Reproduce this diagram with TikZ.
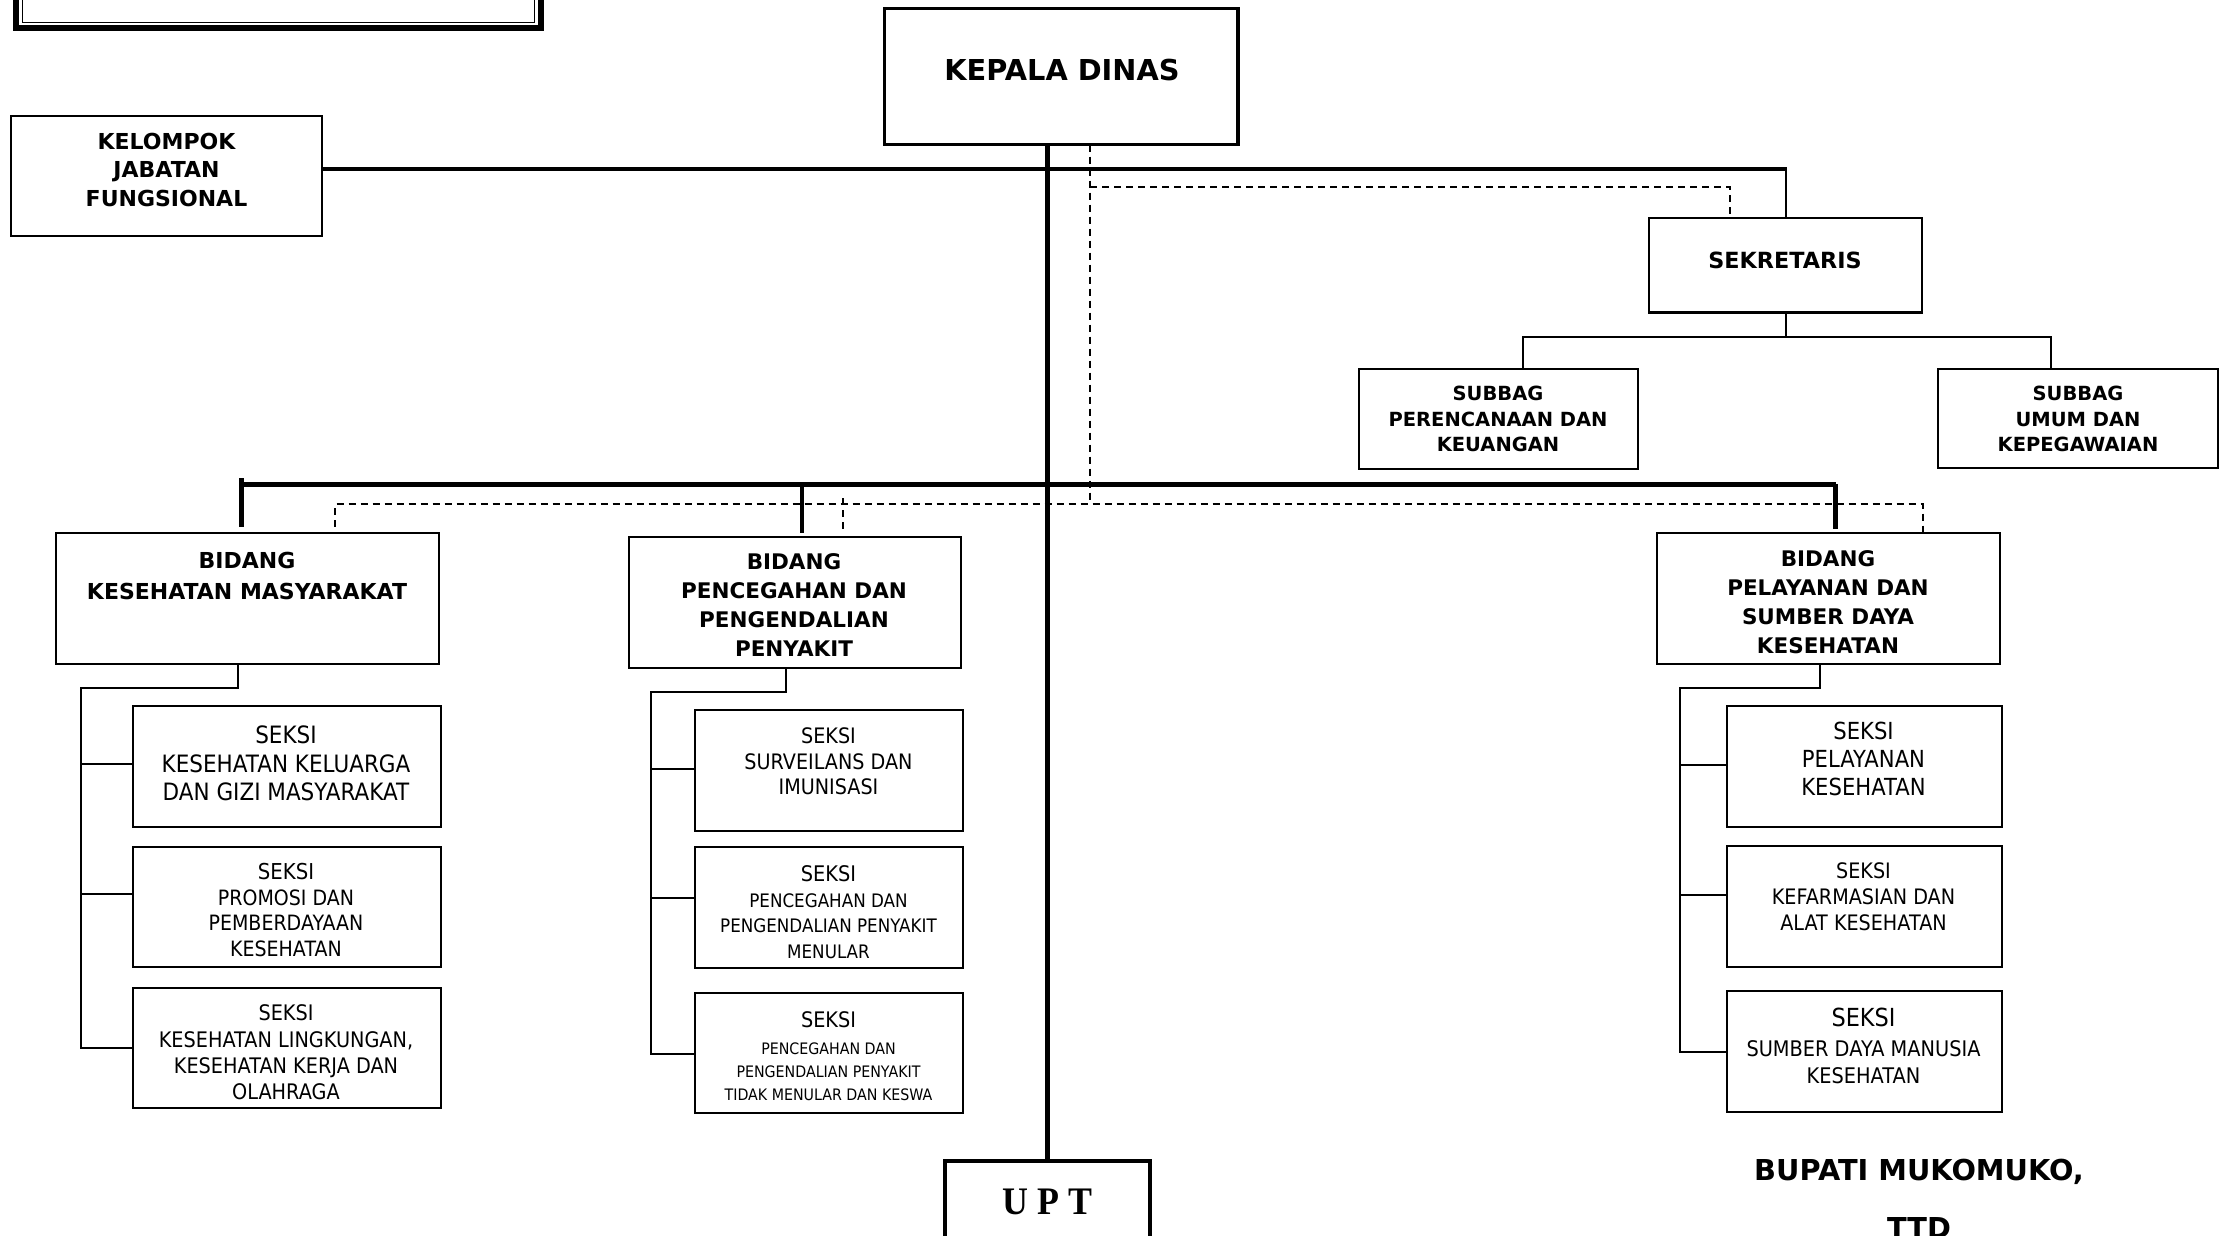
\documentclass[tikz,border=0pt]{standalone}
\usepackage{fontspec}
\setmainfont{DejaVu Sans}
\newfontfamily\regf{DejaVu Sans}[FakeStretch=0.9]
\newfontfamily\uptf{Liberation Serif}[FakeStretch=0.92]
\usetikzlibrary{calc}
\newcommand{\myfs}[2]{\fontsize{#1}{#2}\selectfont}
\tikzset{
  box/.style={draw, line width=2pt, rectangle, inner sep=0pt, outer sep=0pt},
  lbl/.style={anchor=north, inner sep=0pt, outer sep=0pt, align=center},
  conn/.style={line width=2pt},
  thk/.style={line width=5pt},
  dsh/.style={line width=1.5pt, dash pattern=on 7pt off 5pt},
}
\begin{document}
\begin{tikzpicture}[x=1pt,y=-1pt]
\useasboundingbox (0,0) rectangle (2221,1236);
\clip (0,0) rectangle (2221,1236);
\fill[white] (0,0) rectangle (2221,1236);

% decorative box at the top left (cut off)
\node[box, line width=6pt, minimum width=525.5pt, minimum height=68.5pt] (tlo) at (278.25,-5.75) {};
\node[box, line width=1.8pt, minimum width=512pt, minimum height=62.5pt] (tli) at (278.5,-8.75) {};

% boxes
\node[box, line width=3.3pt, minimum width=353.5pt, minimum height=136pt] (kd) at (1061.25,76.7) {};
\node[box, minimum width=311pt, minimum height=119.5pt] (kjf) at (166.5,175.75) {};
\node[box, line width=2.4pt, minimum width=273pt, minimum height=94.5pt] (sekr) at (1785.5,265.25) {};
\node[box, minimum width=279pt, minimum height=100pt] (subpk) at (1498.5,419) {};
\node[box, minimum width=280pt, minimum height=98.5pt] (subum) at (2078,418.25) {};
\node[box, minimum width=382.5pt, minimum height=131pt] (bkm) at (247.25,598) {};
\node[box, minimum width=332.5pt, minimum height=131.5pt] (bpp) at (794.75,602.25) {};
\node[box, minimum width=343.5pt, minimum height=131.5pt] (bps) at (1828.25,598.25) {};
\node[box, minimum width=308pt, minimum height=121.5pt] (km1) at (286.5,766.25) {};
\node[box, minimum width=308pt, minimum height=120.5pt] (km2) at (286.5,906.75) {};
\node[box, minimum width=308pt, minimum height=120pt] (km3) at (286.5,1048) {};
\node[box, minimum width=268.5pt, minimum height=121pt] (pp1) at (828.75,770.5) {};
\node[box, minimum width=268.5pt, minimum height=120.5pt] (pp2) at (828.75,907.25) {};
\node[box, minimum width=268.5pt, minimum height=120pt] (pp3) at (828.75,1052.5) {};
\node[box, minimum width=275.5pt, minimum height=121pt] (ps1) at (1864.25,766.5) {};
\node[box, minimum width=275.5pt, minimum height=121pt] (ps2) at (1864.25,906.5) {};
\node[box, minimum width=275.5pt, minimum height=121pt] (ps3) at (1864.25,1051.5) {};
\node[box, line width=4pt, minimum width=205pt, minimum height=139pt] (upt) at (1047.5,1230) {};

% texts
\node[lbl, font=\bfseries\myfs{28.8}{34}] (tkd) at (1062,59.5) {KEPALA DINAS};
\node[lbl, font=\bfseries\myfs{22}{28.5}] (tkjf) at (166.5,133) {KELOMPOK\\JABATAN\\FUNGSIONAL};
\node[lbl, font=\bfseries\myfs{22.3}{28}] (tsekr) at (1785,251.5) {SEKRETARIS};
\node[lbl, font=\bfseries\myfs{19.5}{25.3}] (tsubpk) at (1498,386.5) {SUBBAG\\PERENCANAAN DAN\\KEUANGAN};
\node[lbl, font=\bfseries\myfs{19.5}{25.3}] (tsubum) at (2078,386.5) {SUBBAG\\UMUM DAN\\KEPEGAWAIAN};
\node[lbl, font=\bfseries\myfs{22}{31.3}] (tbkm) at (247,551.7) {BIDANG\\KESEHATAN MASYARAKAT};
\node[lbl, font=\bfseries\myfs{21.5}{29}] (tbpp) at (794,554) {BIDANG\\PENCEGAHAN DAN\\PENGENDALIAN\\PENYAKIT};
\node[lbl, font=\bfseries\myfs{21.5}{29}] (tbps) at (1828,550.5) {BIDANG\\PELAYANAN DAN\\SUMBER DAYA\\KESEHATAN};

\node[lbl, font=\regf\myfs{23.9}{28.7}] (tkm1) at (286,725.7) {SEKSI\\KESEHATAN KELUARGA\\DAN GIZI MASYARAKAT};
\node[lbl, font=\regf\myfs{21.1}{25.5}] (tkm2) at (286,863.6) {{\myfs{21.9}{25.5}SEKSI}\\PROMOSI DAN\\PEMBERDAYAAN\\KESEHATAN};
\node[lbl, font=\regf\myfs{21.4}{26.3}] (tkm3) at (286,1005) {SEKSI\\KESEHATAN LINGKUNGAN,\\KESEHATAN KERJA DAN\\OLAHRAGA};

\node[lbl, font=\regf\myfs{21.3}{25.3}] (tpp1) at (828.5,728) {SEKSI\\SURVEILANS DAN\\IMUNISASI};
\node[lbl, font=\regf\myfs{18.6}{25.4}] (tpp2) at (828.5,866) {{\myfs{21.5}{25.4}SEKSI}\\PENCEGAHAN DAN\\PENGENDALIAN PENYAKIT\\MENULAR};
\node[lbl, font=\regf\myfs{15.8}{23.2}] (tpp3) at (828.5,1011.7) {{\myfs{21.4}{23.2}SEKSI}\\[3.5pt]PENCEGAHAN DAN\\PENGENDALIAN PENYAKIT\\TIDAK MENULAR DAN KESWA};

\node[lbl, font=\regf\myfs{23.5}{28}] (tps1) at (1863.5,722.5) {SEKSI\\PELAYANAN\\KESEHATAN};
\node[lbl, font=\regf\myfs{21.3}{25.7}] (tps2) at (1863.5,863) {SEKSI\\KEFARMASIAN DAN\\ALAT KESEHATAN};
\node[lbl, font=\regf\myfs{21.5}{27}] (tps3) at (1863.5,1008) {{\myfs{24.9}{27}SEKSI}\\[3.4pt]SUMBER DAYA MANUSIA\\KESEHATAN};

\node[lbl, font=\uptf\bfseries\myfs{39}{44}] (tupt) at (1047.5,1189) {U P T};
\node[lbl, font=\bfseries\myfs{28.8}{58}] (tbup) at (1919,1159) {BUPATI MUKOMUKO,\\TTD};

% junction coordinates
\coordinate (j1) at (1786,169);
\coordinate (dv) at (1090,504);
\coordinate (dv2) at (1090,187);
\coordinate (ds) at (1730,187);
\coordinate (dl) at (335,504);
\coordinate (dr) at (1923,504);
\coordinate (dm) at (843,498);
\coordinate (bl) at (241.5,484);
\coordinate (br) at (1835.5,484);
\coordinate (bm) at (802,484);
\coordinate (sl) at (1523,337);
\coordinate (sr) at (2051,337);
\coordinate (kj) at (238,688);
\coordinate (kl) at (81,688);
\coordinate (pj) at (786,692);
\coordinate (pl) at (650.5,692);
\coordinate (qj) at (1820,688);
\coordinate (ql) at (1680,688);

% main vertical
\draw[thk] (kd.south -| upt.north) -- (upt.north);
% line to kelompok jabatan fungsional and sekretaris
\draw[line width=3.5pt] (kjf.east |- j1) -- ($(j1)+(1,0)$);
\draw[line width=2.2pt] ($(j1)+(0,-1.75)$) -- (sekr.north -| j1);
% dashed lines
\draw[dsh] (kd.south -| dv) -- (dv);
\draw[dsh] (dv2) -- (ds) -- (sekr.north -| ds);
\draw[dsh, shorten <=6pt] (bkm.north -| dl) -- (dl) -- (dr) -- (bps.north -| dr);
\draw[dsh, shorten >=6pt] (dm) -- (bpp.north -| dm);
% bidang bus
\draw[thk, shorten <=6pt] (bkm.north -| bl) -- ($(bl)+(0,-6)$);
\draw[thk] (bl) -- (br);
\draw[line width=4.5pt, shorten >=3.5pt] (br) -- (bps.north -| br);
\draw[line width=4.5pt, shorten >=3.5pt] (bm) -- (bpp.north -| bm);
% sekretaris children
\draw[conn] (sekr.south) -- (sekr.south |- sl);
\draw[conn] (subpk.north -| sl) -- (sl) -- (sr) -- (subum.north -| sr);
% kesmas children
\draw[conn] (bkm.south -| kj) -- (kj) -- (kl) -- (kl |- km3.west) -- (km3.west);
\draw[conn] (kl |- 0,764) -- (km1.west |- 0,764);
\draw[conn] (kl |- 0,894) -- (km2.west |- 0,894);
% p2p children
\draw[conn] (bpp.south -| pj) -- (pj) -- (pl) -- (pl |- 0,1053.5) -- (pp3.west |- 0,1053.5);
\draw[conn] (pl |- 0,768.5) -- (pp1.west |- 0,768.5);
\draw[conn] (pl |- 0,898) -- (pp2.west |- 0,898);
% psdk children
\draw[conn] (bps.south -| qj) -- (qj) -- (ql) -- (ql |- ps3.west) -- (ps3.west);
\draw[conn] (ql |- 0,765) -- (ps1.west |- 0,765);
\draw[conn] (ql |- 0,895) -- (ps2.west |- 0,895);
\end{tikzpicture}
\end{document}
